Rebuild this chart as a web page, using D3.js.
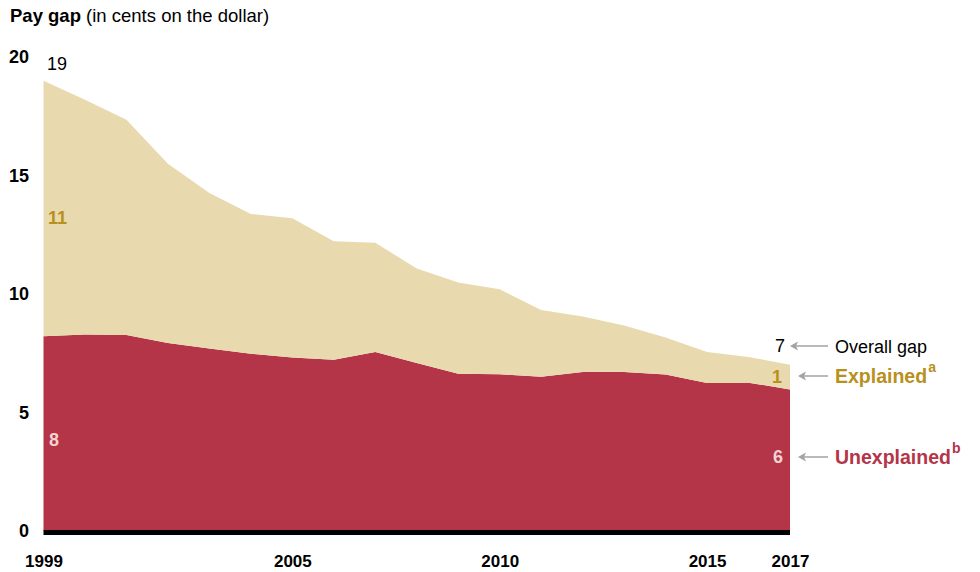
<!DOCTYPE html>
<html>
<head>
<meta charset="utf-8">
<script src="https://cdn.jsdelivr.net/npm/d3@7"></script>
<style>
  body { margin: 0; background: #fff; }
  svg { display: block; font-family: "Liberation Sans", Arial, sans-serif; }
</style>
</head>
<body>
<svg id="vis" width="980" height="572"></svg>
<script>
// chart data
var years = [1999, 2000, 2001, 2002, 2003, 2004, 2005, 2006, 2007, 2008,
             2009, 2010, 2011, 2012, 2013, 2014, 2015, 2016, 2017];
var unexplained = [8.22, 8.29, 8.27, 7.93, 7.70, 7.48, 7.32, 7.23, 7.55, 7.09,
                   6.64, 6.61, 6.51, 6.71, 6.71, 6.60, 6.25, 6.26, 5.97];
var explained = [10.78, 9.91, 9.08, 7.57, 6.56, 5.90, 5.88, 5.00, 4.61, 3.99,
                 3.84, 3.59, 2.82, 2.34, 1.96, 1.56, 1.30, 1.08, 1.05];
var xTicks = [1999, 2005, 2010, 2015, 2017];
var yTicks = [0, 5, 10, 15, 20];

var COLORS = {explained: "#e8d9ae", unexplained: "#b43448"};

var svg = d3.select("#vis");

// rows for the stack
var rows = years.map(function (y, i) {
    return {year: y, unexplained: unexplained[i], explained: explained[i]};
});

var x = d3.scaleLinear().domain([1999, 2017]).range([43.5, 790]);
var y = d3.scaleLinear().domain([0, 20]).range([531, 57]);

var series = d3.stack().keys(["unexplained", "explained"])(rows);

var area = d3.area()
    .x(function (d) { return x(d.data.year); })
    .y0(function (d) { return y(d[0]); })
    .y1(function (d) { return y(d[1]); });

svg.append("g")
    .selectAll("path")
    .data(series)
    .enter()
    .append("path")
    .attr("fill", function (d) { return COLORS[d.key]; })
    .attr("d", area);

// thick baseline
svg.append("line")
    .attr("x1", x(1999))
    .attr("x2", x(2017))
    .attr("y1", y(0) + 1.5)
    .attr("y2", y(0) + 1.5)
    .attr("stroke", "#000")
    .attr("stroke-width", 5);

// axes
var yAxis = d3.axisLeft(y).tickValues(yTicks).tickSize(0).tickPadding(0);
var gy = svg.append("g")
    .attr("transform", "translate(29,0)")
    .call(yAxis);
gy.select(".domain").remove();
gy.selectAll("text")
    .attr("font-family", "Liberation Sans, Arial, sans-serif")
    .attr("font-size", 18)
    .attr("font-weight", "bold")
    .attr("fill", "#000");

var xAxis = d3.axisBottom(x).tickValues(xTicks).tickFormat(d3.format("d")).tickSize(0).tickPadding(0);
var gx = svg.append("g")
    .attr("transform", "translate(0,555)")
    .call(xAxis);
gx.select(".domain").remove();
gx.selectAll("text")
    .attr("font-family", "Liberation Sans, Arial, sans-serif")
    .attr("font-size", 17)
    .attr("font-weight", "bold")
    .attr("fill", "#000");

// title
var title = svg.append("text")
    .attr("x", 10)
    .attr("y", 22)
    .attr("font-size", 18.5)
    .attr("fill", "#000");
title.append("tspan").attr("font-weight", "bold").text("Pay gap");
title.append("tspan").text(" (in cents on the dollar)");

// value labels at the start
var first = 0, last = years.length - 1;
var total = function (i) { return unexplained[i] + explained[i]; };

svg.append("text")
    .attr("x", 47).attr("y", 70)
    .attr("font-size", 18)
    .text(Math.round(total(first)));
svg.append("text")
    .attr("x", 48).attr("y", 224)
    .attr("font-size", 18).attr("font-weight", "bold")
    .attr("fill", "#b8901c")
    .text(Math.round(explained[first]));
svg.append("text")
    .attr("x", 49).attr("y", 446)
    .attr("font-size", 18).attr("font-weight", "bold")
    .attr("fill", "#f3d2d2")
    .text(Math.round(unexplained[first]));

// value labels at the end
svg.append("text")
    .attr("x", 785).attr("y", 352)
    .attr("text-anchor", "end")
    .attr("font-size", 18)
    .text(Math.round(total(last)));
svg.append("text")
    .attr("x", 782).attr("y", 383)
    .attr("text-anchor", "end")
    .attr("font-size", 18).attr("font-weight", "bold")
    .attr("fill", "#b8901c")
    .text(Math.round(explained[last]));
svg.append("text")
    .attr("x", 783).attr("y", 463)
    .attr("text-anchor", "end")
    .attr("font-size", 18).attr("font-weight", "bold")
    .attr("fill", "#f3d2d2")
    .text(Math.round(unexplained[last]));

// arrows + legend labels
var legend = [
    {y: 346, x1: 790, label: "Overall gap", sup: "", color: "#000", bold: false, size: 18},
    {y: 376, x1: 798, label: "Explained", sup: "a", color: "#b8901c", bold: true, size: 19.5},
    {y: 457, x1: 798, label: "Unexplained", sup: "b", color: "#b43448", bold: true, size: 19.5}
];

legend.forEach(function (l) {
    svg.append("line")
        .attr("x1", 828).attr("x2", l.x1 + 6)
        .attr("y1", l.y).attr("y2", l.y)
        .attr("stroke", "#a3a3a3")
        .attr("stroke-width", 1.5);
    svg.append("path")
        .attr("d", "M" + l.x1 + "," + l.y + " l8,-4.5 l-2,4.5 l2,4.5 Z")
        .attr("fill", "#a3a3a3");
    var t = svg.append("text")
        .attr("x", 835).attr("y", l.y + 7)
        .attr("font-size", l.size)
        .attr("font-weight", l.bold ? "bold" : "normal")
        .attr("fill", l.color);
    t.append("tspan").text(l.label);
    if (l.sup) {
        t.append("tspan")
            .attr("dx", 1)
            .attr("dy", -11)
            .attr("font-size", 14)
            .text(l.sup);
    }
});
</script>
</body>
</html>
